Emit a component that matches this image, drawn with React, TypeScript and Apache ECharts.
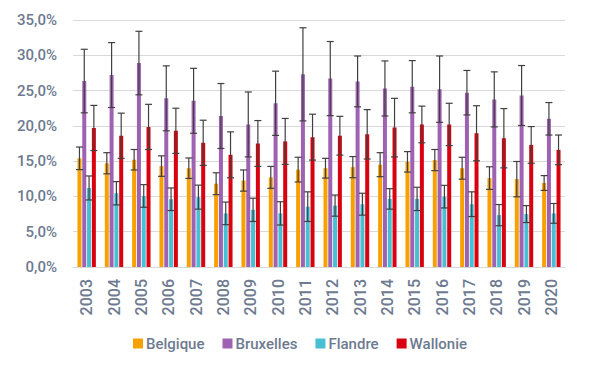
import React, { useEffect, useRef } from "react";
import * as echarts from "echarts";

const years = ["2003","2004","2005","2006","2007","2008","2009","2010","2011","2012","2013","2014","2015","2016","2017","2018","2019","2020"];
const seriesNames = ["Belgique", "Bruxelles", "Flandre", "Wallonie"];
const colors = ["#f7a000", "#9f62b2", "#48bfd2", "#d9000f"];

const belgique = [15.4, 14.7, 15.2, 14.3, 14.0, 11.8, 12.25, 12.7, 13.8, 14.0, 14.15, 14.5, 14.9, 15.15, 14.0, 12.6, 12.45, 11.9];
const bruxelles = [26.35, 27.2, 28.9, 23.9, 23.55, 21.4, 20.2, 23.2, 27.3, 26.7, 26.3, 25.3, 25.55, 25.2, 24.7, 23.75, 24.3, 21.0];
const flandre = [11.2, 10.45, 10.07, 9.6, 9.9, 7.6, 8.1, 7.6, 8.55, 8.7, 8.9, 9.65, 9.65, 9.97, 8.9, 7.35, 7.5, 7.6];
const wallonie = [19.7, 18.6, 19.85, 19.3, 17.6, 15.9, 17.5, 17.8, 18.4, 18.6, 18.8, 19.75, 20.2, 20.2, 18.95, 18.25, 17.3, 16.6];

const belgiqueErr = [1.6, 1.5, 1.45, 1.45, 1.45, 1.55, 1.5, 1.55, 1.75, 1.4, 1.5, 1.7, 1.45, 1.5, 1.55, 1.6, 2.5, 1.05];
const bruxellesErr = [4.5, 4.6, 4.5, 4.6, 4.6, 4.6, 4.6, 4.55, 6.6, 5.25, 3.6, 3.9, 3.7, 4.7, 3.15, 3.9, 4.25, 2.3];
const flandreErr = [1.7, 1.65, 1.6, 1.6, 1.7, 1.6, 1.65, 1.65, 2.1, 1.5, 1.55, 1.45, 1.65, 1.6, 1.75, 1.5, 1.2, 1.4];
const wallonieErr = [3.2, 3.2, 3.2, 3.2, 3.2, 3.25, 3.25, 3.25, 3.25, 2.75, 3.5, 4.15, 2.6, 3.0, 3.9, 4.2, 2.6, 2.1];

const values = [belgique, bruxelles, flandre, wallonie];
const errors = [belgiqueErr, bruxellesErr, flandreErr, wallonieErr];

const BAR_W = 4;
const GAP = 0.8;
const FONT = "Roboto, sans-serif";
const LABEL_COLOR = "#6e7a90";

export default function App() {
  const ref = useRef<HTMLDivElement>(null);
  useEffect(() => {
    if (!ref.current) return;
    const chart = echarts.init(ref.current, undefined, { renderer: "svg" });
    const step = BAR_W + GAP;
    const offsets = [-1.5 * step, -0.5 * step, 0.5 * step, 1.5 * step];

    const barSeries = seriesNames.map((name, s) => ({
      name,
      type: "bar",
      data: values[s],
      barWidth: BAR_W,
      barGap: (GAP / BAR_W) * 100 + "%",
      itemStyle: { color: colors[s] },
      z: 2,
    }));

    const errSeries = seriesNames.map((name, s) => ({
      name: name + " err",
      type: "custom",
      z: 5,
      data: values[s].map((v, i) => [i, v, v - errors[s][i], v + errors[s][i]]),
      encode: { x: 0, y: [2, 3] },
      renderItem: (params: any, api: any) => {
        const idx = api.value(0);
        const lo = api.coord([idx, api.value(2)]);
        const hi = api.coord([idx, api.value(3)]);
        const cx = lo[0] + offsets[s];
        const half = 3.5;
        const style = { stroke: "#404040", lineWidth: 1.2 };
        return {
          type: "group",
          children: [
            { type: "line", shape: { x1: cx, y1: lo[1], x2: cx, y2: hi[1] }, style },
            { type: "line", shape: { x1: cx - half, y1: lo[1], x2: cx + half, y2: lo[1] }, style },
            { type: "line", shape: { x1: cx - half, y1: hi[1], x2: cx + half, y2: hi[1] }, style },
          ],
        };
      },
    }));

    chart.setOption({
      animation: false,
      grid: { left: 73, right: 35, top: 20, bottom: 107 },
      legend: {
        data: seriesNames,
        top: 331,
        left: "center",
        icon: "rect",
        itemWidth: 10,
        itemHeight: 10,
        itemGap: 18,
        textStyle: { color: LABEL_COLOR, fontFamily: FONT, fontSize: 15, fontWeight: 500, padding: [0, 0, 0, -2] },
      },
      xAxis: {
        type: "category",
        data: years,
        axisLine: { lineStyle: { color: "#d9d9d9" } },
        axisTick: { show: false },
        axisLabel: { rotate: 90, color: LABEL_COLOR, fontFamily: FONT, fontSize: 16, fontWeight: 500, margin: 12 },
      },
      yAxis: {
        type: "value",
        min: 0,
        max: 35,
        interval: 5,
        axisLine: { show: false },
        axisTick: { show: false },
        splitLine: { lineStyle: { color: "#d9d9d9", width: 1 } },
        axisLabel: {
          color: LABEL_COLOR,
          fontFamily: FONT,
          fontSize: 15,
          fontWeight: 500,
          margin: 16,
          formatter: (v: number) => v.toFixed(1).replace(".", ",") + "%",
        },
      },
      series: [...barSeries, ...errSeries],
    });
    return () => chart.dispose();
  }, []);
  return <div ref={ref} style={{ width: 600, height: 374, position: "absolute", left: 0, top: 0 }} />;
}
